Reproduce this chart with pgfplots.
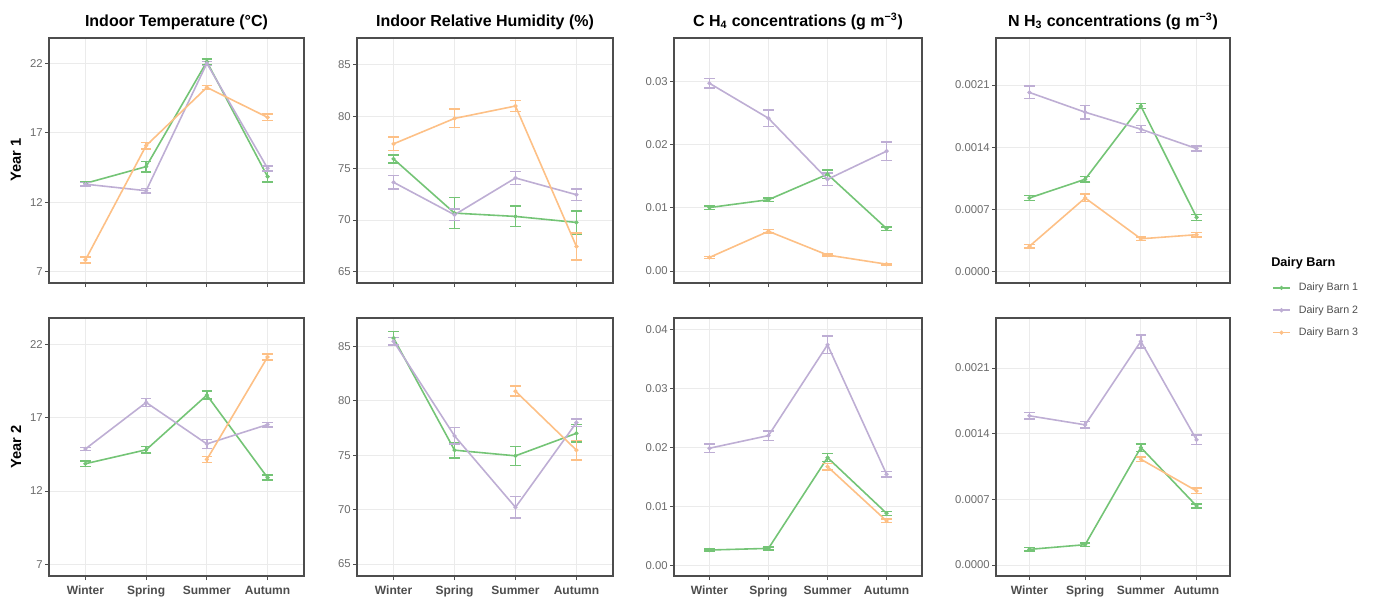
\documentclass[border=0pt]{standalone}
\usepackage{fontspec}
\setmainfont{Liberation Sans}
\usepackage{pgfplots}
\pgfplotsset{compat=1.18}
\usepackage{pgfplotstable}

\definecolor{barnA}{HTML}{74C476}
\definecolor{barnB}{HTML}{BEAED4}
\definecolor{barnC}{HTML}{FDC086}
\definecolor{frame}{HTML}{4D4D4D}
\definecolor{gridc}{HTML}{EBEBEB}
\definecolor{ticktext}{HTML}{6B6B6B}

% columns: x, Dairy Barn 1 (g, ge), Dairy Barn 2 (p, pe), Dairy Barn 3 (o, oe)
\pgfplotstableread{
x g ge p pe o oe
0 13.36 0.15 13.30 0.12 7.86 0.22
1 14.56 0.38 12.83 0.15 16.07 0.24
2 22.10 0.20 21.98 0.15 20.25 0.15
3 13.84 0.40 14.44 0.18 18.10 0.24
}\Tone
\pgfplotstableread{
x g ge p pe o oe
0 13.86 0.18 14.87 0.11 nan nan
1 14.81 0.23 18.04 0.28 nan nan
2 18.54 0.28 15.21 0.30 14.15 0.21
3 12.91 0.17 16.53 0.15 21.14 0.22
}\Ttwo
\pgfplotstableread{
x g ge p pe o oe
0 75.90 0.40 73.64 0.65 77.36 0.65
1 70.66 1.50 70.50 0.55 79.82 0.90
2 70.34 1.00 74.06 0.65 81.02 0.55
3 69.76 1.10 72.44 0.55 67.43 1.30
}\Hone
\pgfplotstableread{
x g ge p pe o oe
0 85.76 0.58 85.46 0.35 nan nan
1 75.46 0.72 76.77 0.76 nan nan
2 74.94 0.88 70.21 0.99 80.88 0.46
3 77.01 0.79 77.99 0.34 75.46 0.91
}\Htwo
\pgfplotstableread{
x g ge p pe o oe
0 0.01005 0.00027 0.02973 0.00075 0.00215 0.00015
1 0.01129 0.00030 0.02419 0.00130 0.00629 0.00030
2 0.01532 0.00070 0.01452 0.00100 0.00253 0.00015
3 0.00672 0.00027 0.01898 0.00145 0.00108 0.00015
}\Cone
\pgfplotstableread{
x g ge p pe o oe
0 0.00261 0.00020 0.01989 0.00070 nan nan
1 0.00289 0.00025 0.02204 0.00080 nan nan
2 0.01830 0.00070 0.03745 0.00150 0.01677 0.00055
3 0.00884 0.00035 0.01547 0.00050 0.00754 0.00030
}\Ctwo
\pgfplotstableread{
x g ge p pe o oe
0 0.000830 0.000027 0.002016 0.000070 0.000287 0.000020
1 0.001040 0.000030 0.001794 0.000077 0.000830 0.000042
2 0.001863 0.000030 0.001603 0.000040 0.000371 0.000020
3 0.000612 0.000035 0.001385 0.000028 0.000417 0.000025
}\None
\pgfplotstableread{
x g ge p pe o oe
0 0.000167 0.000018 0.001591 0.000036 nan nan
1 0.000217 0.000020 0.001495 0.000036 nan nan
2 0.001253 0.000040 0.002385 0.000070 0.001128 0.000023
3 0.000630 0.000020 0.001335 0.000050 0.000790 0.000030
}\Ntwo

\pgfplotsset{
  panel/.style={
    scale only axis, anchor=north west,
    xmin=-0.6, xmax=3.6, xtick={0,1,2,3},
    grid=major, major grid style={draw=gridc, line width=0.6pt},
    axis line style={draw=frame, line width=0.8pt},
    tick align=outside, major tick length=3pt,
    tick style={draw=frame, line width=0.6pt},
    xtick pos=left, ytick pos=left,
    scaled y ticks=false,
    /pgf/number format/assume math mode=true,
    yticklabel style={font=\fontsize{8.5}{10}\selectfont, text=ticktext, inner sep=1.5pt},
    xticklabel style={font=\bfseries\fontsize{9}{11}\selectfont, text=frame,
      text height=6.6pt, text depth=2pt, yshift=-1pt},
    every axis title shift=0pt,
    title style={font=\bfseries\fontsize{12}{14}\selectfont, at={(0.5,1)}, anchor=base, yshift=9pt},
  },
  toprow/.style={xticklabels={,,,}, height=245*0.75pt, at={(#1*0.75pt,-38*0.75pt)}},
  botrow/.style={xticklabels={Winter,Spring,Summer,Autumn}, height=258*0.75pt, at={(#1*0.75pt,-318*0.75pt)}},
  temp/.style={ymin=6.2, ymax=23.8, ytick={7,12,17,22}, width=255*0.75pt},
  hum/.style={ymin=63.9, ymax=87.6, ytick={65,70,75,80,85}, width=256*0.75pt},
  meth/.style={width=248*0.75pt, yticklabel style={/pgf/number format/.cd, fixed, fixed zerofill, precision=2}},
  ammo/.style={width=234*0.75pt, ytick={0,0.0007,0.0014,0.0021},
    yticklabel style={/pgf/number format/.cd, fixed, fixed zerofill, precision=4}},
  barn/.style={color=#1, line width=1.2pt, mark=*, mark size=0.9pt, mark options={solid},
    error bars/.cd, y dir=both, y explicit,
    error bar style={line width=1.1pt, color=#1},
    error mark options={rotate=90, mark size=4pt, line width=1.1pt, color=#1}},
  legend image code/.code={\draw[mark repeat=2, mark phase=2, #1]
    plot coordinates {(0pt,0pt) (6.4pt,0pt) (12.8pt,0pt)};},
}

\newcommand{\threebarns}[1]{%
  \addplot[barn=barnA] table[x=x, y=g, y error=ge] {#1};
  \addplot[barn=barnB] table[x=x, y=p, y error=pe] {#1};
  \addplot[barn=barnC] table[x=x, y=o, y error=oe] {#1};
}

\begin{document}
\begin{tikzpicture}
\useasboundingbox (0,0) rectangle (1375*0.75pt,-600*0.75pt);

% Year 1
\begin{axis}[panel, toprow=49, temp, title={Indoor Temperature (°C)}]
\threebarns{\Tone}
\end{axis}
\begin{axis}[panel, toprow=357, hum, title={Indoor Relative Humidity (\%)}]
\threebarns{\Hone}
\end{axis}
\begin{axis}[panel, toprow=674, meth, ymin=-0.0019, ymax=0.0369, ytick={0,0.01,0.02,0.03},
  title={C H\textsubscript{4} concentrations (g m\textsuperscript{−3})}]
\threebarns{\Cone}
\end{axis}
\begin{axis}[panel, toprow=996, ammo, ymin=-0.000126, ymax=0.002628,
  title={N H\textsubscript{3} concentrations (g m\textsuperscript{−3})},
  legend style={at={(axis description cs:1.179,0.012)}, anchor=north west, draw=none, fill=none,
    inner sep=0pt, font=\fontsize{8}{9.6}\selectfont, text=frame, row sep=5.5pt, column sep=4pt},
  legend cell align=left]
\threebarns{\None}
\legend{Dairy Barn 1, Dairy Barn 2, Dairy Barn 3}
\end{axis}

% Year 2
\begin{axis}[panel, botrow=49, temp]
\threebarns{\Ttwo}
\end{axis}
\begin{axis}[panel, botrow=357, hum]
\threebarns{\Htwo}
\end{axis}
\begin{axis}[panel, botrow=674, meth, ymin=-0.0018, ymax=0.042, ytick={0,0.01,0.02,0.03,0.04}]
\threebarns{\Ctwo}
\end{axis}
\begin{axis}[panel, botrow=996, ammo, ymin=-0.000117, ymax=0.002634]
\threebarns{\Ntwo}
\end{axis}

\node[rotate=90, font=\bfseries\fontsize{11}{13}\selectfont] at (16*0.75pt,-160*0.75pt) {Year 1};
\node[rotate=90, font=\bfseries\fontsize{11}{13}\selectfont] at (16*0.75pt,-447*0.75pt) {Year 2};
\node[anchor=base west, inner sep=0pt, font=\bfseries\fontsize{9.5}{11}\selectfont] at (1271*0.75pt,-266*0.75pt) {Dairy Barn};
\end{tikzpicture}
\end{document}
